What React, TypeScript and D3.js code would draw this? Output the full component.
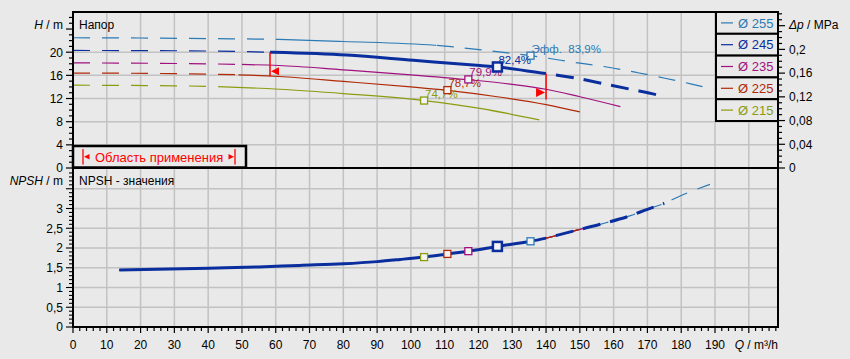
import React from 'react';
import * as d3 from 'd3';

// ---------- data ----------
const diameters = ['Ø 255', 'Ø 245', 'Ø 235', 'Ø 225', 'Ø 215'];
const colors = ['#2a7ab5', '#0a2e9e', '#a0107e', '#b02a08', '#8c9c10'];

const q255 = [0, 20, 40, 61, 80, 107, 124, 135.4, 150, 158.4, 166.8, 175.2, 183.1, 189.5];
const h255 = [22.5, 22.45, 22.35, 22.2, 21.85, 21.2, 20.2, 19.4, 18.1, 17.4, 16.5, 15.5, 14.5, 13.6];
const q245 = [0, 30, 58.3, 81, 100.7, 120.4, 125.6, 140, 149, 156.7, 165, 173, 175.2];
const h245 = [20.3, 20.25, 20.0, 19.5, 18.6, 17.7, 17.45, 16.3, 15.5, 14.6, 13.6, 12.6, 12.2];
const q235 = [0, 30, 61, 80, 100, 117, 130, 140, 150, 162];
const h235 = [18.15, 18.05, 17.7, 16.95, 16.1, 15.25, 14.45, 13.6, 12.3, 10.6];
const q225 = [0, 30, 61, 80, 100, 110.8, 125, 140, 150];
const h225 = [16.4, 16.3, 15.8, 14.95, 14.0, 13.4, 12.35, 10.95, 9.7];
const q215 = [0, 30, 61, 80, 103.9, 120.4, 138];
const h215 = [14.3, 14.2, 13.6, 12.85, 11.65, 10.3, 8.3];

const npshQ = [13.7, 40, 55, 67, 80, 90, 96.8, 103.6, 110.9, 117.2, 125.7, 135.4, 140, 150, 156, 165, 170, 175, 180, 188.5];
const npshV = [1.44, 1.49, 1.52, 1.56, 1.6, 1.655, 1.71, 1.77, 1.85, 1.92, 2.04, 2.17, 2.25, 2.47, 2.6, 2.82, 2.98, 3.13, 3.33, 3.61];
const npshEnd = [188.5, 175.2, 162, 150, 138];

const bepQ = [135.4, 125.6, 117, 110.8, 103.9];
const bepH = [19.4, 17.45, 15.3, 13.45, 11.65];
const bepNpsh = [2.17, 2.04, 1.92, 1.85, 1.77];
const bepLabels = ['Эфф.  83,9%', '82,4%', '79,9%', '78,7%', '74,7%'];

const dashEnd = [60, 58.3, 50, 49, 43];
const qMin = 58.3;
const qMax = 140;

const xMajor = d3.range(0, 200, 10);
const hMajor = [0, 4, 8, 12, 16, 20];
const pMajor = [0, 0.04, 0.08, 0.12, 0.16, 0.2];
const nMajor = [0, 0.5, 1, 1.5, 2, 2.5, 3];

// ---------- layout ----------
const W = 850, HT = 359;
const L = 73, R = 778, T = 12, M = 168, B = 327;
const bg = '#e9e9e9';
const grid = '#c2c2c2';
const font = '"Liberation Sans", Arial, sans-serif';

const x = d3.scaleLinear().domain([0, 190]).range([73, 715]);
const yH = d3.scaleLinear().domain([0, 20]).range([168, 52.2]);
const yP = d3.scaleLinear().domain([0, 0.2]).range([168, 49.4]);
const yN = d3.scaleLinear().domain([0, 3]).range([327, 208.5]);

const curvesQ = [q255, q245, q235, q225, q215];
const curvesH = [h255, h245, h235, h225, h215];

const fmt = (v: number) => String(+v.toFixed(2)).replace('.', ',');

const lineH = d3.line<[number, number]>().x(d => x(d[0])).y(d => yH(d[1])).curve(d3.curveMonotoneX);
const lineN = d3.line<[number, number]>().x(d => x(d[0])).y(d => yN(d[1])).curve(d3.curveMonotoneX);

const pts = (qs: number[], vs: number[]) => qs.map((q, i) => [q, vs[i]] as [number, number]);
const npshPts = (end: number) => pts(npshQ, npshV).filter(p => p[0] <= end + 0.01);

export default function App() {
  const curvePaths = curvesQ.map((qs, i) => lineH(pts(qs, curvesH[i])) as string);
  const thin = 1.2;
  const thick = 3;

  const clipRect = (id: string, q0: number, q1: number, y0: number, y1: number) => (
    <clipPath id={id} key={id}>
      <rect x={x(q0)} y={y0} width={Math.max(0, x(q1) - x(q0))} height={y1 - y0} />
    </clipPath>
  );

  const order = [0, 4, 3, 2, 1];
  const npshOrder = [0, 4, 2, 3, 1];

  return (
    <svg width={W} height={HT} style={{ position: 'absolute', left: 0, top: 0, fontFamily: font }}>
      <rect x={0} y={0} width={W} height={HT} fill={bg} />
      <defs>
        {clipRect('c255a', 0, 60, T, M)}
        {clipRect('c255b', 60, 107.5, T, M)}
        {clipRect('c255c', 107.5, 210, T, M)}
        {[1, 2, 3, 4].map(i => clipRect(`cd${i}`, 0, dashEnd[i], T, M))}
        {[2, 3, 4].map(i => clipRect(`cs${i}`, dashEnd[i], 210, T, M))}
        {clipRect('c245s', qMin, qMax, T, M)}
      </defs>

      {/* grid */}
      {d3.range(10, 210, 10).map(q => (
        <line key={'gx' + q} x1={x(q)} x2={x(q)} y1={T} y2={B} stroke={grid} strokeWidth={1.5} />
      ))}
      {[4, 8, 12, 16, 20].map(h => (
        <line key={'gh' + h} x1={L} x2={R} y1={yH(h)} y2={yH(h)} stroke={grid} strokeWidth={1.5} />
      ))}
      {[0.5, 1, 1.5, 2, 2.5, 3, 3.5].map(n => (
        <line key={'gn' + n} x1={L} x2={R} y1={yN(n)} y2={yN(n)} stroke={grid} strokeWidth={1.5} />
      ))}

      {/* H curves */}
      {order.map(i => {
        const c = colors[i];
        const d = curvePaths[i];
        if (i === 0) {
          return (
            <g key={'h' + i}>
              <path d={d} fill="none" stroke={c} strokeWidth={thin} strokeDasharray="17 12" clipPath="url(#c255a)" />
              <path d={d} fill="none" stroke={c} strokeWidth={thin} clipPath="url(#c255b)" />
              <path d={d} fill="none" stroke={c} strokeWidth={thin} strokeDasharray="17 11" clipPath="url(#c255c)" />
            </g>
          );
        }
        if (i === 1) {
          const tail = lineH(pts(q245, h245).filter(p => p[0] >= qMax)) as string;
          return (
            <g key={'h' + i}>
              <path d={d} fill="none" stroke={c} strokeWidth={thin} strokeDasharray="17 12" clipPath="url(#cd1)" />
              <path d={d} fill="none" stroke={c} strokeWidth={thick} clipPath="url(#c245s)" />
              <path d={tail} fill="none" stroke={c} strokeWidth={thick} strokeDasharray="18 10" strokeDashoffset={18} />
            </g>
          );
        }
        return (
          <g key={'h' + i}>
            <path d={d} fill="none" stroke={c} strokeWidth={thin} strokeDasharray="17 12" clipPath={`url(#cd${i})`} />
            <path d={d} fill="none" stroke={c} strokeWidth={thin} clipPath={`url(#cs${i})`} />
          </g>
        );
      })}

      {/* min / max flow markers */}
      <line x1={x(qMin)} x2={x(qMin)} y1={yH(20.0)} y2={yH(20.0) + 24} stroke="#ff0000" strokeWidth={1.5} />
      <path d={`M${x(qMin) + 1},${yH(20.0) + 19} L${x(qMin) + 9},${yH(20.0) + 15} L${x(qMin) + 9},${yH(20.0) + 23} Z`} fill="#ff0000" />
      <line x1={x(qMax)} x2={x(qMax)} y1={yH(16.3)} y2={yH(16.3) + 26} stroke="#ff0000" strokeWidth={1.5} />
      <path d={`M${x(qMax) - 1},${yH(16.3) + 19} L${x(qMax) - 10},${yH(16.3) + 14.5} L${x(qMax) - 10},${yH(16.3) + 23.5} Z`} fill="#ff0000" />

      {/* BEP markers top */}
      {order.map(i => (
        <g key={'b' + i}>
          <rect
            x={x(bepQ[i]) - (i === 1 ? 4.5 : 3.5)}
            y={yH(bepH[i]) - (i === 1 ? 4.5 : 3.5)}
            width={i === 1 ? 9 : 7}
            height={i === 1 ? 9 : 7}
            fill="#f4f4f4"
            stroke={colors[i]}
            strokeWidth={i === 1 ? 2.5 : 1.3}
          />
          <text x={x(bepQ[i]) + 1} y={yH(bepH[i]) - 3} fontSize={11.5} fill={colors[i]} style={{ whiteSpace: 'pre' }}>
            {bepLabels[i]}
          </text>
        </g>
      ))}

      {/* NPSH curves */}
      {npshOrder.map(i => {
        const c = colors[i];
        const d = lineN(npshPts(npshEnd[i])) as string;
        if (i === 0) return <path key={'n' + i} d={d} fill="none" stroke={c} strokeWidth={thin} strokeDasharray="17 11" />;
        if (i === 1) {
          const head = lineN(npshPts(qMax)) as string;
          const tail = lineN(npshPts(npshEnd[1]).filter(p => p[0] >= qMax)) as string;
          return (
            <g key={'n' + i}>
              <path d={head} fill="none" stroke={c} strokeWidth={thick} />
              <path d={tail} fill="none" stroke={c} strokeWidth={thick} strokeDasharray="18 10" strokeDashoffset={18} />
            </g>
          );
        }
        return <path key={'n' + i} d={d} fill="none" stroke={c} strokeWidth={thin} />;
      })}
      {order.map(i => (
        <rect
          key={'bn' + i}
          x={x(bepQ[i]) - (i === 1 ? 4.5 : 3.5)}
          y={yN(bepNpsh[i]) - (i === 1 ? 4.5 : 3.5)}
          width={i === 1 ? 9 : 7}
          height={i === 1 ? 9 : 7}
          fill="#f4f4f4"
          stroke={colors[i]}
          strokeWidth={i === 1 ? 2.5 : 1.3}
        />
      ))}

      {/* frame */}
      <rect x={L} y={T} width={R - L} height={B - T} fill="none" stroke="#000" strokeWidth={2} />
      <line x1={L} x2={R} y1={M} y2={M} stroke="#000" strokeWidth={2} />

      {/* application range box */}
      <rect x={L} y={146} width={173} height={21.5} fill={bg} stroke="#000" strokeWidth={2.5} />
      <line x1={83} x2={83} y1={149} y2={164.5} stroke="#ff0000" strokeWidth={1.3} />
      <path d="M84,156.8 L89.5,154 L89.5,159.6 Z" fill="#ff0000" />
      <text x={95} y={161.5} fontSize={13} fill="#ff0000">Область применения</text>
      <line x1={235} x2={235} y1={149} y2={164.5} stroke="#ff0000" strokeWidth={1.3} />
      <path d="M234,156.8 L228.5,154 L228.5,159.6 Z" fill="#ff0000" />

      {/* legend */}
      {diameters.map((lab, i) => {
        const h = 21.8;
        const y0 = T + i * h;
        return (
          <g key={'lg' + i}>
            <rect x={716} y={y0} width={R - 716} height={h} fill={bg} stroke="#000" strokeWidth={2} />
            <line x1={721} x2={733} y1={y0 + h / 2} y2={y0 + h / 2} stroke={colors[i]} strokeWidth={1.2} />
            <text x={738} y={y0 + h / 2 + 4.6} fontSize={13} fill={colors[i]}>{lab}</text>
          </g>
        );
      })}

      {/* left axis H */}
      {d3.range(0, 27, 1).map(v => (
        <line key={'th' + v} x1={L - (v % 4 === 0 ? 7 : 4)} x2={L} y1={yH(v)} y2={yH(v)} stroke="#000" strokeWidth={1.2} />
      ))}
      {hMajor.map(v => (
        <text key={'lh' + v} x={63} y={yH(v) + 4.3} fontSize={12} textAnchor="end" fill="#000">{fmt(v)}</text>
      ))}
      <text x={63} y={28.5} fontSize={12} textAnchor="end" fill="#000">
        <tspan fontStyle="italic">H</tspan> / m
      </text>
      <text x={79} y={28.5} fontSize={12} fill="#000">Напор</text>

      {/* left axis NPSH */}
      {d3.range(0, 40, 1).map(k => (
        <line key={'tn' + k} x1={L - (k % 5 === 0 ? 7 : 4)} x2={L} y1={yN(k / 10)} y2={yN(k / 10)} stroke="#000" strokeWidth={1.1} />
      ))}
      {nMajor.map(v => (
        <text key={'ln' + v} x={63} y={yN(v) + 4.3} fontSize={12} textAnchor="end" fill="#000">{fmt(v)}</text>
      ))}
      <text x={63} y={185.3} fontSize={12} textAnchor="end" fill="#000">
        <tspan fontStyle="italic">NPSH</tspan> / m
      </text>
      <text x={79} y={185.3} fontSize={12} fill="#000">NPSH - значения</text>

      {/* right axis dp */}
      {d3.range(0, 27, 1).map(k => (
        <line key={'tp' + k} x1={R} x2={R + (k % 4 === 0 ? 7 : 4)} y1={yP(k / 100)} y2={yP(k / 100)} stroke="#000" strokeWidth={1.2} />
      ))}
      {pMajor.map(v => (
        <text key={'lp' + v} x={789} y={yP(v) + 4.3} fontSize={12} fill="#000">{fmt(v)}</text>
      ))}
      <text x={789} y={28.5} fontSize={12} fill="#000">
        <tspan fontStyle="italic">Δp</tspan> / MPa
      </text>

      {/* bottom axis Q */}
      {d3.range(0, 210, 2).map(q => (
        <line key={'tq' + q} x1={x(q)} x2={x(q)} y1={B} y2={B + (q % 10 === 0 ? 6 : 4)} stroke="#000" strokeWidth={1.2} />
      ))}
      {xMajor.map(q => (
        <text key={'lq' + q} x={x(q)} y={348.5} fontSize={12} textAnchor="middle" fill="#000">{q}</text>
      ))}
      <text x={778} y={348.5} fontSize={12} textAnchor="end" fill="#000">
        <tspan fontStyle="italic">Q</tspan> / m³/h
      </text>
    </svg>
  );
}
